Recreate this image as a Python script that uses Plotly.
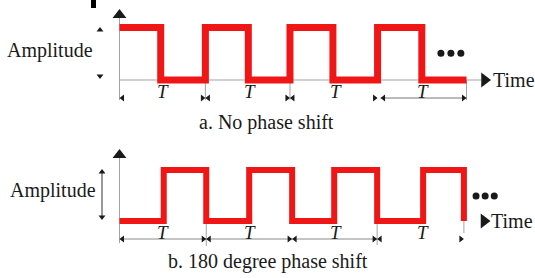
import plotly.graph_objects as go

# ---------------- data ----------------
# switching instants of the square waves, in half-period units
top_edges = [0.0, 0.95, 1.98, 2.97, 3.93, 4.92, 5.95, 6.97, 8.0]
top_levels = [1, 0, 1, 0, 1, 0, 1, 0, 0]
bottom_edges = [0.0, 1.02, 2.0, 2.99, 3.98, 4.95, 5.94, 7.0, 7.94]
bottom_levels = [0, 1, 0, 1, 0, 1, 0, 1, 0]
period_label_pos = [1, 3, 5, 7]
period_label = "T"
top_dots_t = [7.41, 7.64, 7.87]
top_dots_amp = [0.51, 0.51, 0.51]
bottom_dots_t = [8.22, 8.43, 8.64]
bottom_dots_amp = [0.49, 0.49, 0.49]
captions = ["a. No phase shift", "b. 180 degree phase shift"]
y_label = "Amplitude"
x_label = "Time"

# ---------------- geometry ----------------
W, H = 535, 278
PXT = 43.375      # pixels per half period
X0 = 119.5        # pixel of t = 0
A0_TOP, PXA_TOP = 80.0, 52.5
A0_BOT, PXA_BOT = 221.0, 51.0

def dx(p):
    return p / PXT

def ta(p):   # top panel pixel row -> amplitude
    return (A0_TOP - p) / PXA_TOP

def ba(p):   # bottom panel pixel row -> amplitude
    return (A0_BOT - p) / PXA_BOT

GRAY = "#a3a3a3"
DARK = "#1a1a1a"
RED = "#f01616"
FONT = "Liberation Serif"

fig = go.Figure()

def line(xs, ys, yaxis="y", color=GRAY, width=1):
    fig.add_trace(go.Scatter(x=xs, y=ys, mode="lines", yaxis=yaxis,
                             line=dict(color=color, width=width),
                             hoverinfo="skip", showlegend=False))

def marks(xs, ys, symbol, size, yaxis="y", color=DARK):
    fig.add_trace(go.Scatter(x=xs, y=ys, mode="markers", yaxis=yaxis,
                             marker=dict(symbol=symbol, size=size, color=color,
                                         line=dict(width=0)),
                             hoverinfo="skip", showlegend=False))

# ================= top panel =================
line([0, 0], [ta(100), ta(18)])
marks([0], [ta(15)], "triangle-up", 12)
line([0, dx(481 - X0)], [0, 0])
marks([dx(484.5 - X0)], [0], "triangle-right", 13)
# period ticks
for t in (top_edges[2], top_edges[4], top_edges[8]):
    line([t, t], [0, ta(100)])
# dimension marks
ydim = ta(98)
marks([dx(3)], [ydim], "triangle-left", 6)
for t in (top_edges[2], top_edges[4]):
    marks([t - dx(3)], [ydim], "triangle-right", 6)
    marks([t + dx(3)], [ydim], "triangle-left", 6)
t6 = top_edges[6]
marks([t6 - dx(3)], [ydim], "triangle-right", 6)
line([t6 + dx(3), top_edges[8]], [ydim, ydim], color="#777777")
marks([t6 + dx(6)], [ydim], "triangle-left", 6)
marks([top_edges[8] - dx(3)], [ydim], "triangle-right", 6)
# amplitude arrows
marks([dx(100 - X0)], [ta(30)], "triangle-up", 6)
marks([dx(100 - X0)], [ta(76)], "triangle-down", 6)
# wave
fig.add_trace(go.Scatter(x=top_edges, y=top_levels, mode="lines", line_shape="hv",
                         line=dict(color=RED, width=7), hoverinfo="skip", showlegend=False))
marks(top_dots_t, top_dots_amp, "circle", 7)

# ================= bottom panel =================
line([0, 0], [ba(243), ba(158)], "y2")
marks([0], [ba(155)], "triangle-up", 12, "y2")
for t, p0, p1 in ((bottom_edges[2], 221, 246), (bottom_edges[6], 223, 245), (bottom_edges[8], 221, 233)):
    line([t, t], [ba(p0), ba(p1)], "y2")
ydim2 = ba(239)
line([0, bottom_edges[6]], [ydim2, ydim2], "y2", color="#8a8a8a")
marks([dx(3)], [ydim2], "triangle-left", 6, "y2")
for t in (bottom_edges[2], bottom_edges[4], bottom_edges[6]):
    marks([t - dx(3)], [ydim2], "triangle-right", 6, "y2")
    marks([t + dx(3)], [ydim2], "triangle-left", 6, "y2")
marks([bottom_edges[8] - dx(3)], [ydim2], "triangle-right", 6, "y2")
# double arrow
line([dx(102 - X0)] * 2, [ba(218), ba(171)], "y2", color="#333333")
marks([dx(102 - X0)], [ba(172)], "triangle-up", 6, "y2")
marks([dx(102 - X0)], [ba(217)], "triangle-down", 6, "y2")
marks([dx(484 - X0)], [0], "triangle-right", 13, "y2")
fig.add_trace(go.Scatter(x=bottom_edges, y=bottom_levels, mode="lines", line_shape="hv",
                         line=dict(color=RED, width=6), hoverinfo="skip", showlegend=False,
                         yaxis="y2"))
marks(bottom_dots_t, bottom_dots_amp, "circle", 7, "y2")

# ================= texts =================
ann = []
def text(s, x, y, yref, size=20, xanchor="center", italic=False):
    ann.append(dict(text=s, x=x, y=y, xref="x", yref=yref, showarrow=False,
                    xanchor=xanchor, yanchor="middle",
                    font=dict(family=FONT, size=size, color=DARK,
                              style="italic" if italic else "normal")))

text(y_label, dx(50 - X0), ta(50), "y")
text(y_label, dx(53 - X0), ba(190), "y2")
text(x_label, dx(491 - X0), 0, "y", xanchor="left")
text(x_label, dx(489 - X0), 0, "y2", xanchor="left")
for t in period_label_pos:
    text(period_label, t, ta(91), "y", size=19, italic=True)
    text(period_label, t, ba(232), "y2", size=19, italic=True)
text(captions[0], dx(266.5 - X0), ta(122), "y")
text(captions[1], dx(268 - X0), ba(261), "y2")

fig.update_layout(
    width=W, height=H, autosize=False,
    margin=dict(l=0, r=0, t=0, b=0, pad=0),
    paper_bgcolor="white", plot_bgcolor="white",
    xaxis=dict(range=[-X0 / PXT, (W - X0) / PXT], visible=False, fixedrange=True),
    yaxis=dict(range=[-(H - A0_TOP) / PXA_TOP, A0_TOP / PXA_TOP], visible=False, fixedrange=True),
    yaxis2=dict(range=[-(H - A0_BOT) / PXA_BOT, A0_BOT / PXA_BOT], visible=False,
                overlaying="y", fixedrange=True),
    annotations=ann,
    shapes=[dict(type="rect", xref="paper", yref="paper",
                 x0=91 / W, x1=96 / W, y0=1 - 8 / H, y1=1,
                 fillcolor="black", line=dict(width=0))],
    showlegend=False,
)

fig.write_html("out.html", config={"displayModeBar": False},
               post_script="document.body.style.margin='0px';")
